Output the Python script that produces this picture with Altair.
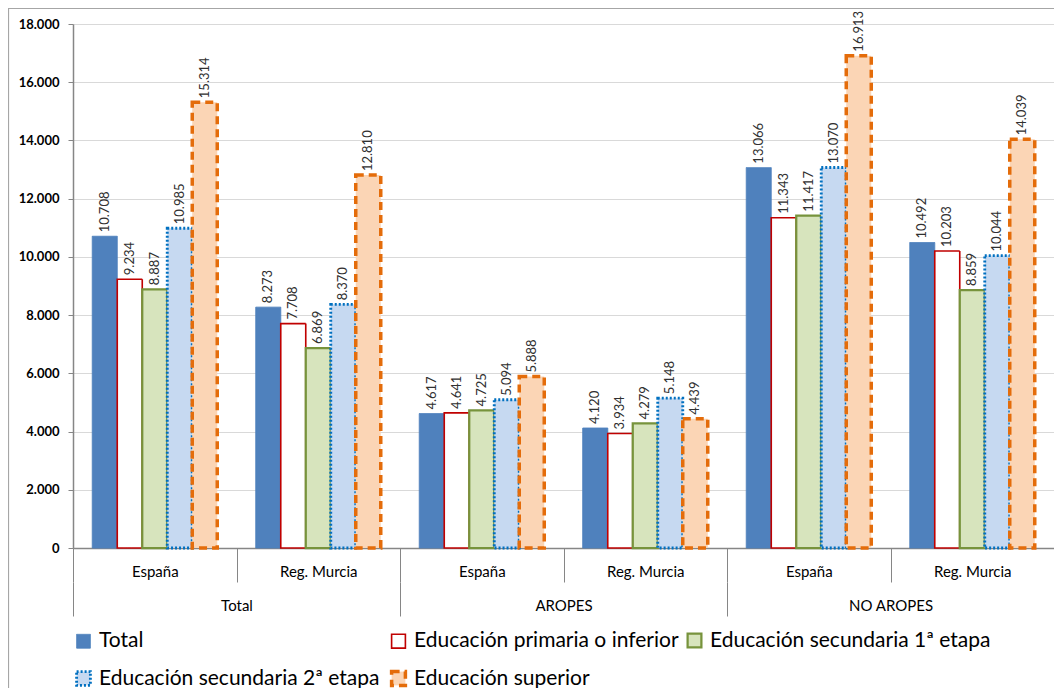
import altair as alt
import pandas as pd

FONT = "Lato"

grupos = ["Total", "AROPES", "NO AROPES"]
regiones = ["España", "Reg. Murcia"]
series = [
    "Total",
    "Educación primaria o inferior",
    "Educación secundaria 1ª etapa",
    "Educación secundaria 2ª etapa",
    "Educación superior",
]

total_espana = [10708, 9234, 8887, 10985, 15314]
total_murcia = [8273, 7708, 6869, 8370, 12810]
aropes_espana = [4617, 4641, 4725, 5094, 5888]
aropes_murcia = [4120, 3934, 4279, 5148, 4439]
noaropes_espana = [13066, 11343, 11417, 13070, 16913]
noaropes_murcia = [10492, 10203, 8859, 10044, 14039]

valores = {
    ("Total", "España"): total_espana,
    ("Total", "Reg. Murcia"): total_murcia,
    ("AROPES", "España"): aropes_espana,
    ("AROPES", "Reg. Murcia"): aropes_murcia,
    ("NO AROPES", "España"): noaropes_espana,
    ("NO AROPES", "Reg. Murcia"): noaropes_murcia,
}

fill_colors = ["#4F81BD", "#FFFFFF", "#D7E4BD", "#C6D9F1", "#FBD5B5"]
stroke_colors = ["#4F81BD", "#C00000", "#77933C", "#0070C0", "#E46C0A"]
stroke_dashes = [[1, 0], [1, 0], [1, 0], [2, 2], [8, 5]]
stroke_widths = [1, 3.5, 2.5, 2, 2.5]

rows = []
claves = []
for g in grupos:
    for r in regiones:
        clave = f"{g}|{r}"
        claves.append(clave)
        for s, v in zip(series, valores[(g, r)]):
            rows.append({"clave": clave, "grupo": g, "region": r, "serie": s, "valor": v})
df = pd.DataFrame(rows)

AX = "#868686"

x_enc = alt.X(
    "clave:N",
    sort=claves,
    scale=alt.Scale(paddingInner=0, paddingOuter=0),
    axis=alt.Axis(
        title=None,
        labelExpr="split(datum.label, '|')[1]",
        tickBand="extent",
        tickSize=34,
        tickColor=AX,
        domainColor=AX,
        domainWidth=1.5,
        labelAngle=0,
        labelPadding=-18,
        labelFontSize=15,
        labelFont=FONT,
        labelColor="#000000",
        grid=False,
    ),
)
xoff = alt.XOffset("serie:N", sort=series, scale=alt.Scale(paddingInner=0, paddingOuter=0.77))
y_enc = alt.Y(
    "valor:Q",
    scale=alt.Scale(domain=[0, 18000], nice=False),
    axis=alt.Axis(
        title=None,
        values=list(range(0, 18001, 2000)),
        format=",d",
        labelExpr="replace(datum.label, ',', '.')",
        labelFontWeight="bold",
        labelFontSize=13,
        labelFont=FONT,
        labelColor="#000000",
        labelPadding=9,
        grid=True,
        gridColor="#D9D9D9",
        domainColor=AX,
        domainWidth=1.5,
        tickColor=AX,
        tickSize=5,
    ),
)

legend = alt.Legend(
    title=None,
    orient="none",
    legendX=0,
    legendY=606,
    direction="horizontal",
    columns=3,
    symbolType="square",
    symbolSize=190,
    labelFontSize=21,
    labelFont=FONT,
    labelColor="#000000",
    labelLimit=500,
    rowPadding=12,
    columnPadding=4,
    labelOffset=5,
)

bars = alt.Chart(df).mark_bar().encode(
    x=x_enc,
    xOffset=xoff,
    y=y_enc,
    fill=alt.Fill("serie:N", sort=series, scale=alt.Scale(domain=series, range=fill_colors), legend=legend),
    stroke=alt.Stroke("serie:N", sort=series, scale=alt.Scale(domain=series, range=stroke_colors), legend=legend),
    strokeDash=alt.StrokeDash("serie:N", sort=series, scale=alt.Scale(domain=series, range=stroke_dashes), legend=legend),
    strokeWidth=alt.StrokeWidth("serie:N", sort=series, scale=alt.Scale(domain=series, range=stroke_widths), legend=legend),
)

labels = alt.Chart(df).transform_calculate(
    lab="replace(format(datum.valor, ',d'), ',', '.')"
).mark_text(
    angle=270, align="left", baseline="middle", dx=4, fontSize=13, font=FONT, color="#303030"
).encode(x=x_enc, xOffset=xoff, y=alt.Y("valor:Q"), text="lab:N")

inner = alt.layer(bars, labels)

outer_axis = alt.Chart(pd.DataFrame({"grupo": grupos})).mark_point(opacity=0).encode(
    x=alt.X(
        "grupo:N",
        sort=grupos,
        scale=alt.Scale(paddingInner=0, paddingOuter=0),
        axis=alt.Axis(
            orient="bottom",
            offset=34,
            title=None,
            tickBand="extent",
            tickSize=34,
            tickColor=AX,
            domain=False,
            labelAngle=0,
            labelPadding=-18,
            labelFontSize=15,
            labelFont=FONT,
            labelColor="#000000",
            grid=False,
        ),
    )
)

frame = alt.Chart(pd.DataFrame({"a": [0]})).mark_rect(
    fill="transparent", stroke="#A6A6A6", strokeWidth=1.2
).encode(
    x=alt.value(-64.5), x2=alt.value(1100), y=alt.value(-15.5), y2=alt.value(800)
)

chart = alt.layer(frame, inner, outer_axis).resolve_scale(x="independent").properties(
    width=981,
    height=524,
    autosize=alt.AutoSizeParams(type="none"),
    padding={"left": 65, "top": 16, "right": 0, "bottom": 140},
).configure_view(stroke=None)

chart.save("out.html", embed_options={"renderer": "svg", "actions": False})
